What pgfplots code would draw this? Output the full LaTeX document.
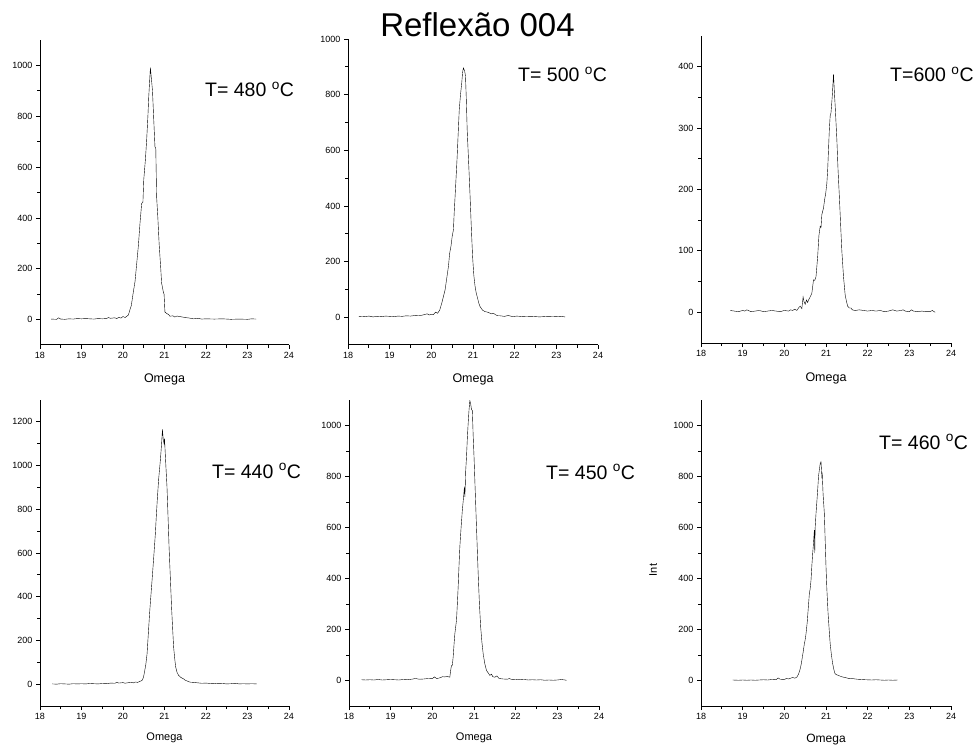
\documentclass[border=0pt]{standalone}
\usepackage{fontspec}
\setmainfont{Liberation Sans}
\usepackage{pgfplots}
\pgfplotsset{compat=1.18}
\pgfplotsset{panel/.style={
  scale only axis, anchor=south west,
  axis x line*=bottom, axis y line*=left,
  xmin=18, xmax=24, xtick={18,19,...,24},
  minor x tick num=1, minor y tick num=1,
  tick align=outside, major tick length=4pt, minor tick length=3pt,
  axis line style={line width=1pt},
  every tick/.style={black, line width=0.8pt},
  tick label style={font=\fontsize{9}{10}\selectfont},
  /pgf/number format/assume math mode=true,
  /pgf/number format/1000 sep={},
  xlabel={Omega},
  cycle list={{black, line width=0.9pt, mark=none}},
}}
\begin{document}
\begin{tikzpicture}
\path[use as bounding box] (0pt,0pt) rectangle (973pt,745pt);
% Panel 1: T=480
\begin{axis}[panel, at={(40pt,400pt)}, width=249pt, height=305pt,
  ymin=-100, ymax=1100, ytick={0,200,...,1000},
  xlabel style={at={(axis description cs:0.5,0)}, anchor=center, yshift=-34pt, font=\fontsize{12.5}{14}\selectfont}]
\addplot coordinates {(18.27,2) (18.4,1) (18.45,7) (18.5,2) (18.6,1) (18.7,3) (18.8,2) (18.9,4) (19.0,3) (19.1,4) (19.2,3) (19.3,2) (19.4,4) (19.5,3) (19.6,4) (19.65,8) (19.7,5) (19.8,7) (19.85,4) (19.9,9) (19.95,6) (20.0,12) (20.05,8) (20.1,14) (20.13,18) (20.17,40) (20.2,55) (20.25,110) (20.29,150) (20.33,220) (20.37,290) (20.41,380) (20.45,457) (20.48,462) (20.5,550) (20.54,630) (20.57,706) (20.6,800) (20.62,876) (20.66,991) (20.71,902) (20.74,790) (20.77,680) (20.79,673) (20.81,484) (20.84,400) (20.87,300) (20.91,200) (20.93,144) (20.97,110) (20.99,100) (21.01,30) (21.05,24) (21.1,20) (21.13,13) (21.2,15) (21.25,10) (21.3,14) (21.4,11) (21.5,8) (21.6,6) (21.7,3) (21.8,5) (21.9,2) (22.0,3) (22.2,2) (22.4,3) (22.6,1) (22.8,2) (23.0,1) (23.1,3) (23.21,2)};
\end{axis}
% Panel 2: T=500
\begin{axis}[panel, at={(348pt,400pt)}, width=250pt, height=306pt,
  ymin=-100, ymax=1000, ytick={0,200,...,1000},
  xlabel style={at={(axis description cs:0.5,0)}, anchor=center, yshift=-34pt, font=\fontsize{12.5}{14}\selectfont}]
\addplot coordinates {(18.26,3) (18.4,2) (18.5,4) (18.6,1) (18.7,3) (18.8,2) (18.9,4) (19.0,3) (19.1,2) (19.2,4) (19.3,3) (19.4,5) (19.5,4) (19.6,6) (19.7,5) (19.8,8) (19.9,12) (19.95,8) (20.0,10) (20.05,9) (20.1,18) (20.15,14) (20.2,25) (20.25,50) (20.3,80) (20.33,98) (20.37,140) (20.41,182) (20.44,230) (20.47,254) (20.5,290) (20.53,314) (20.55,380) (20.57,434) (20.6,520) (20.62,578) (20.65,680) (20.67,746) (20.7,800) (20.73,842) (20.75,880) (20.77,896) (20.8,885) (20.82,866) (20.84,780) (20.86,674) (20.9,540) (20.93,434) (20.96,320) (20.99,218) (21.02,150) (21.05,110) (21.08,85) (21.1,74) (21.14,50) (21.17,38) (21.23,25) (21.29,20) (21.35,18) (21.4,15) (21.45,12) (21.49,14) (21.55,8) (21.6,5) (21.65,5) (21.75,3) (21.85,6) (21.95,2) (22.05,4) (22.2,2) (22.4,3) (22.6,1) (22.8,3) (23.0,2) (23.1,3) (23.21,1)};
\end{axis}
% Panel 3: T=600
\begin{axis}[panel, at={(701pt,402pt)}, width=250pt, height=307pt,
  ymin=-50, ymax=450, ytick={0,100,...,400},
  xlabel style={at={(axis description cs:0.5,0)}, anchor=center, yshift=-35pt, font=\fontsize{12.5}{14}\selectfont}]
\addplot coordinates {(18.7,3) (18.8,2) (18.9,1) (19.0,3) (19.05,2) (19.1,4) (19.2,1) (19.3,2) (19.4,3) (19.5,1) (19.6,2) (19.7,3) (19.8,2) (19.9,1) (20.0,3) (20.1,2) (20.15,4) (20.2,3) (20.25,5) (20.3,3) (20.35,8) (20.38,10) (20.42,6) (20.45,25) (20.47,18) (20.5,13) (20.53,20) (20.56,16) (20.58,20) (20.62,25) (20.66,31) (20.7,53) (20.73,52) (20.76,58) (20.8,91) (20.83,125) (20.86,140) (20.88,138) (20.9,159) (20.94,170) (20.97,185) (20.99,192) (21.02,210) (21.04,232) (21.08,298) (21.1,320) (21.12,325) (21.15,352) (21.18,388) (21.2,360) (21.22,336) (21.26,282) (21.29,230) (21.32,189) (21.36,129) (21.38,100) (21.42,58) (21.46,28) (21.49,18) (21.52,10) (21.56,7) (21.6,7) (21.63,4) (21.7,3) (21.8,4) (21.9,3) (22.0,2) (22.1,3) (22.2,2) (22.3,3) (22.4,1) (22.5,2) (22.6,4) (22.7,2) (22.8,3) (22.85,4) (22.9,2) (23.0,1) (23.05,4) (23.1,2) (23.2,1) (23.3,2) (23.4,1) (23.5,1) (23.55,3) (23.62,0)};
\end{axis}
% Panel 4: T=440
\begin{axis}[panel, at={(40pt,39pt)}, width=249pt, height=306pt,
  ymin=-100, ymax=1300, ytick={0,200,...,1200},
  xlabel style={at={(axis description cs:0.5,0)}, anchor=center, yshift=-32pt, font=\fontsize{11}{13}\selectfont}]
\addplot coordinates {(18.3,1) (18.4,0) (18.5,2) (18.6,1) (18.7,0) (18.8,2) (18.9,1) (19.0,2) (19.1,1) (19.2,3) (19.3,2) (19.4,1) (19.5,3) (19.6,2) (19.7,5) (19.8,4) (19.85,8) (19.9,5) (20.0,7) (20.05,4) (20.1,6) (20.2,8) (20.25,6) (20.3,10) (20.35,8) (20.4,12) (20.46,17) (20.49,30) (20.51,47) (20.55,90) (20.58,139) (20.61,230) (20.64,322) (20.67,400) (20.7,475) (20.74,580) (20.78,689) (20.8,760) (20.83,856) (20.86,940) (20.9,1024) (20.93,1100) (20.95,1165) (20.97,1120) (20.99,1100) (21.0,1124) (21.03,1010) (21.06,902) (21.09,740) (21.11,627) (21.14,490) (21.17,353) (21.2,240) (21.22,169) (21.25,110) (21.27,78) (21.3,55) (21.34,40) (21.4,30) (21.46,24) (21.5,18) (21.55,14) (21.62,9) (21.7,8) (21.8,6) (21.9,4) (22.0,5) (22.1,3) (22.2,4) (22.3,2) (22.4,3) (22.5,1) (22.6,2) (22.7,4) (22.8,1) (22.9,2) (23.0,1) (23.1,2) (23.22,1)};
\end{axis}
% Panel 5: T=450
\begin{axis}[panel, at={(349pt,39pt)}, width=250pt, height=306pt,
  ymin=-100, ymax=1100, ytick={0,200,...,1000},
  xlabel style={at={(axis description cs:0.5,0)}, anchor=center, yshift=-32pt, font=\fontsize{11}{13}\selectfont}]
\addplot coordinates {(18.3,3) (18.4,2) (18.5,3) (18.6,2) (18.7,4) (18.8,2) (18.9,3) (19.0,4) (19.1,3) (19.2,2) (19.3,4) (19.4,3) (19.5,5) (19.6,8) (19.65,6) (19.7,5) (19.8,6) (19.9,8) (20.0,7) (20.05,14) (20.1,8) (20.15,9) (20.2,12) (20.25,15) (20.3,14) (20.35,16) (20.4,14) (20.42,13) (20.44,40) (20.46,59) (20.48,60) (20.5,92) (20.52,140) (20.54,183) (20.56,210) (20.58,236) (20.6,300) (20.62,367) (20.64,450) (20.66,524) (20.69,600) (20.72,668) (20.75,720) (20.77,760) (20.78,720) (20.79,760) (20.8,820) (20.82,878) (20.84,950) (20.86,1009) (20.88,1060) (20.9,1098) (20.92,1085) (20.94,1062) (20.96,1059) (20.98,960) (21.0,880) (21.02,786) (21.06,600) (21.1,419) (21.13,300) (21.16,210) (21.19,150) (21.22,105) (21.26,65) (21.3,39) (21.34,30) (21.38,20) (21.42,25) (21.45,15) (21.5,13) (21.55,18) (21.6,8) (21.7,6) (21.8,5) (21.85,8) (21.9,4) (22.0,5) (22.1,3) (22.2,4) (22.3,2) (22.4,3) (22.5,2) (22.6,3) (22.7,1) (22.8,2) (22.9,1) (23.0,2) (23.1,4) (23.22,1)};
\end{axis}
% Panel 6: T=460
\begin{axis}[panel, at={(701pt,39pt)}, width=250pt, height=306pt,
  ymin=-100, ymax=1100, ytick={0,200,...,1000},
  xlabel style={at={(axis description cs:0.5,0)}, anchor=center, yshift=-34pt, font=\fontsize{12}{14}\selectfont},
  ylabel={Int},
  ylabel style={at={(axis description cs:0,0.5)}, anchor=center, xshift=-17pt, yshift=48pt, font=\fontsize{11}{13}\selectfont}]
\addplot coordinates {(18.76,2) (18.9,1) (19.0,2) (19.1,1) (19.2,2) (19.3,1) (19.4,2) (19.5,3) (19.6,2) (19.7,4) (19.8,3) (19.85,10) (19.9,5) (20.0,4) (20.05,8) (20.1,6) (20.15,9) (20.2,12) (20.25,9) (20.3,13) (20.34,25) (20.37,39) (20.4,60) (20.42,79) (20.45,110) (20.48,144) (20.5,160) (20.52,183) (20.55,230) (20.57,275) (20.6,340) (20.62,360) (20.64,393) (20.66,450) (20.68,498) (20.7,540) (20.72,590) (20.73,500) (20.74,600) (20.76,655) (20.78,700) (20.8,747) (20.82,800) (20.84,826) (20.86,850) (20.88,858) (20.9,800) (20.91,810) (20.93,730) (20.96,655) (20.98,550) (21.0,446) (21.02,360) (21.05,262) (21.08,190) (21.1,144) (21.13,100) (21.16,66) (21.18,50) (21.2,35) (21.22,26) (21.26,22) (21.3,20) (21.35,16) (21.42,13) (21.5,10) (21.55,8) (21.6,9) (21.66,7) (21.75,5) (21.85,4) (21.95,3) (22.1,2) (22.2,3) (22.3,2) (22.4,1) (22.5,2) (22.6,1) (22.72,2)};
\end{axis}
% Title and temperature labels
\node[anchor=base, font=\fontsize{33}{38}\selectfont, inner sep=0pt] at (477.5pt,708pt) {Reflexão 004};
\node[anchor=base west, font=\fontsize{19.5}{22}\selectfont, inner sep=0pt] at (205pt,648pt) {T= 480 \textsuperscript{o}C};
\node[anchor=base west, font=\fontsize{19.5}{22}\selectfont, inner sep=0pt] at (518pt,663pt) {T= 500 \textsuperscript{o}C};
\node[anchor=base west, font=\fontsize{19.5}{22}\selectfont, inner sep=0pt] at (890pt,663pt) {T=600 \textsuperscript{o}C};
\node[anchor=base west, font=\fontsize{19.5}{22}\selectfont, inner sep=0pt] at (212pt,267pt) {T= 440 \textsuperscript{o}C};
\node[anchor=base west, font=\fontsize{19.5}{22}\selectfont, inner sep=0pt] at (546pt,266pt) {T= 450 \textsuperscript{o}C};
\node[anchor=base west, font=\fontsize{19.5}{22}\selectfont, inner sep=0pt] at (879pt,296pt) {T= 460 \textsuperscript{o}C};
\end{tikzpicture}
\end{document}
